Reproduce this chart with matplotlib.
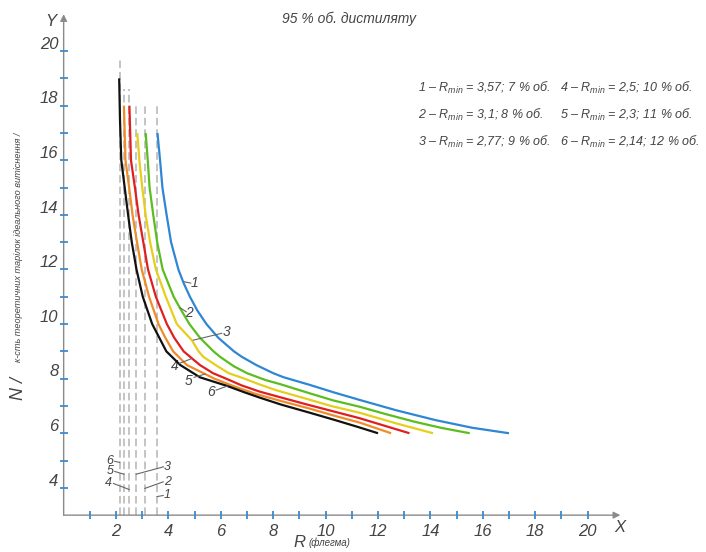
import matplotlib
matplotlib.use("Agg")
import matplotlib.pyplot as plt

# ─── data ─────────────────────────────────────────────────────────────────────
R_MIN = [3.57, 3.1, 2.77, 2.5, 2.3, 2.14]
LEGEND = [
    "1 – $R_{min}$ = 3,57; 7 % об.",
    "2 – $R_{min}$ = 3,1; 8 % об.",
    "3 – $R_{min}$ = 2,77; 9 % об.",
    "4 – $R_{min}$ = 2,5; 10 % об.",
    "5 – $R_{min}$ = 2,3; 11 % об.",
    "6 – $R_{min}$ = 2,14; 12 % об.",
]

# curve 1 (R_min = 3,57)
x1 = [3.58, 3.68, 3.77, 3.93, 4.1, 4.38, 4.58, 4.82, 5.1, 5.45, 5.9, 6.5, 6.8, 7.35, 8.0,
      8.4, 9.4, 10.3, 11.3, 12.7, 14.2, 15.6, 17.0]
y1 = [17.0, 16.0, 15.0, 14.0, 13.0, 12.0, 11.5, 11.0, 10.5, 10.0, 9.5, 9.0, 8.8, 8.5, 8.2,
      8.05, 7.77, 7.5, 7.22, 6.84, 6.48, 6.2, 6.0]

# curve 2 (R_min = 3,1)
x2 = [3.13, 3.21, 3.28, 3.42, 3.57, 3.78, 4.2, 4.45, 4.8, 5.2, 5.72, 5.97, 6.5, 7.0, 7.7,
      8.26, 9.4, 10.3, 11.3, 12.3, 13.4, 14.4, 15.5]
y2 = [17.0, 16.0, 15.0, 14.0, 13.0, 12.0, 11.0, 10.57, 10.0, 9.5, 9.0, 8.8, 8.45, 8.2, 7.95,
      7.8, 7.46, 7.2, 6.97, 6.7, 6.42, 6.2, 6.0]

# curve 3 (R_min = 2,77)
x3 = [2.81, 2.89, 3.0, 3.13, 3.3, 3.52, 3.9, 4.32, 4.89, 5.15, 5.33, 5.8, 6.3, 6.9, 7.5,
      8.1, 9.2, 10.2, 11.3, 12.7, 14.1]
y3 = [17.0, 16.0, 15.0, 14.0, 13.0, 12.0, 11.0, 10.0, 9.41, 9.0, 8.8, 8.5, 8.2, 8.0, 7.78,
      7.58, 7.28, 7.0, 6.75, 6.36, 6.0]

# curve 4 (R_min = 2,5)
x4 = [2.51, 2.57, 2.72, 2.86, 3.04, 3.22, 3.52, 3.94, 4.22, 4.58, 4.9, 5.2, 5.7, 6.2, 6.8,
      7.5, 8.26, 9.3, 10.3, 11.3, 12.3, 13.2]
y4 = [18.0, 16.0, 15.0, 14.0, 13.0, 12.0, 11.0, 10.0, 9.5, 9.0, 8.74, 8.5, 8.2, 8.0, 7.75,
      7.52, 7.32, 7.05, 6.8, 6.55, 6.26, 6.0]

# curve 5 (R_min = 2,3)
x5 = [2.3, 2.36, 2.5, 2.63, 2.8, 2.98, 3.26, 3.62, 3.88, 4.18, 4.7, 5.4, 5.75, 6.5, 7.3,
      8.26, 9.4, 10.3, 11.3, 12.5]
y5 = [18.0, 16.0, 15.0, 14.0, 13.0, 12.0, 11.0, 10.0, 9.5, 9.0, 8.5, 8.17, 8.0, 7.72, 7.45,
      7.19, 6.9, 6.65, 6.39, 6.0]

# curve 6 (R_min = 2,14)
x6 = [2.12, 2.15, 2.2, 2.33, 2.46, 2.6, 2.78, 3.02, 3.38, 3.65, 3.92, 4.45, 5.2, 6.25, 6.9,
      7.5, 8.3, 9.4, 10.3, 11.2, 12.0]
y6 = [19.0, 17.5, 16.0, 15.0, 14.0, 13.0, 12.0, 11.0, 10.0, 9.5, 9.0, 8.5, 8.05, 7.73, 7.5,
      7.3, 7.05, 6.75, 6.5, 6.24, 6.0]

X_TICKS = list(range(1, 21))
X_LABELS = [2, 4, 6, 8, 10, 12, 14, 16, 18, 20]
Y_TICKS = list(range(4, 21))
Y_LABELS = [4, 6, 8, 10, 12, 14, 16, 18, 20]

# ─── style ────────────────────────────────────────────────────────────────────
COLORS = ["#2f86d2", "#5cbd1f", "#e6cf1c", "#e01f1f", "#f08c28", "#111111"]
DASH_TOP = [18.1, 18.1, 18.1, 18.6, 18.6, 19.7]
TXT = "#444444"
TICK = "#3a8ad0"

plt.rcParams["font.family"] = ["Liberation Sans", "DejaVu Sans"]
plt.rcParams["mathtext.fontset"] = "custom"
plt.rcParams["mathtext.it"] = "Liberation Sans:italic"
plt.rcParams["mathtext.rm"] = "Liberation Sans"

fig = plt.figure(figsize=(7.06, 5.52), dpi=100)
ax = fig.add_axes([0, 0, 1, 1])
ax.set_xlim(-2.43, 24.52)
ax.set_ylim(1.65, 21.87)
ax.axis("off")

# dashed asymptotes at R_min
for r, top in zip(R_MIN, DASH_TOP):
    ax.plot([r, r], [3, top], color="#b4b4b4", lw=1.1, ls=(0, (5, 2.5)), zorder=2)

# curves
for xs, ys, c in zip([x1, x2, x3, x4, x5, x6], [y1, y2, y3, y4, y5, y6], COLORS):
    ax.plot(xs, ys, color=c, lw=1.6, zorder=4, solid_capstyle="butt", solid_joinstyle="round")

# axes with arrows
arrow = dict(arrowstyle="-|>", color="#8a8a8a", lw=1.0, mutation_scale=10, shrinkA=0, shrinkB=0)
ax.annotate("", xy=(21.25, 3), xytext=(0, 3), arrowprops=arrow)
ax.annotate("", xy=(0, 21.35), xytext=(0, 3), arrowprops=arrow)
ax.plot(X_TICKS, [3] * len(X_TICKS), ls="none", marker="|", ms=6, mew=1.3, color=TICK, zorder=5)
ax.plot([0] * len(Y_TICKS), Y_TICKS, ls="none", marker="_", ms=6, mew=1.3, color=TICK, zorder=5)

for v in X_LABELS:
    ax.text(v, 2.4, str(v), ha="center", va="center", fontsize=12, style="italic", color=TXT)
for v in Y_LABELS:
    ax.text(-0.2, v + 0.25, str(v), ha="right", va="center", fontsize=12, style="italic", color=TXT)

ax.text(-0.5, 21.1, "Y", ha="center", va="center", fontsize=12, style="italic", color=TXT)
ax.text(21.25, 2.55, "X", ha="center", va="center", fontsize=12, style="italic", color=TXT)

# axis titles
ax.text(9.25, 2.0, "R", ha="right", va="center", fontsize=12, style="italic", color=TXT)
ax.text(9.35, 1.98, "(флегма)", ha="left", va="center", fontsize=7, style="italic", color=TXT)
ax.text(-1.74, 7.2, "N /", ha="center", va="bottom", rotation=90, fontsize=13,
        style="italic", color=TXT)
ax.text(-1.74, 8.6, "к-сть теоретичних тарілок ідеального витіснення /", ha="center",
        va="bottom", rotation=90, fontsize=6.6, style="italic", color=TXT)
ax.text(10.9, 21.2, "95 % об. дистиляту", ha="center", va="center", fontsize=10,
        style="italic", color=TXT)

# legend text (two columns of three rows)
rows = [18.64, 17.66, 16.67]
for i, s in enumerate(LEGEND):
    col = 13.53 if i < 3 else 18.94
    ax.text(col, rows[i % 3], s, ha="left", va="center", fontsize=9, style="italic", color=TXT)

# curve number leaders
curve_leaders = [
    ("1", (4.6, 11.55), (4.85, 11.5), (4.98, 11.49)),
    ("2", (4.44, 10.6), (4.68, 10.45), (4.8, 10.41)),
    ("3", (4.95, 9.41), (6.03, 9.66), (6.2, 9.72)),
    ("4", (4.9, 8.74), (4.42, 8.56), (4.25, 8.46)),
    ("5", (5.4, 8.17), (4.98, 8.05), (4.76, 7.92)),
    ("6", (6.25, 7.73), (5.82, 7.58), (5.61, 7.52)),
]
for lab, p0, p1, pt in curve_leaders:
    ax.plot([p0[0], p1[0]], [p0[1], p1[1]], color="#666666", lw=0.8, zorder=5)
    ax.text(pt[0], pt[1], lab, ha="center", va="center", fontsize=10, style="italic", color=TXT)

# dashed-line number leaders near the bottom
dash_leaders = [
    ("6", (2.14, 4.93), (1.95, 4.97), (1.77, 4.99)),
    ("5", (2.3, 4.5), (1.95, 4.6), (1.77, 4.6)),
    ("4", (2.5, 3.94), (1.9, 4.16), (1.72, 4.16)),
    ("3", (2.77, 4.5), (3.81, 4.77), (3.95, 4.77)),
    ("2", (3.1, 3.98), (3.8, 4.22), (3.95, 4.22)),
    ("1", (3.57, 3.68), (3.8, 3.72), (3.95, 3.72)),
]
for lab, p0, p1, pt in dash_leaders:
    ax.plot([p0[0], p1[0]], [p0[1], p1[1]], color="#666666", lw=0.8, zorder=5)
    ax.text(pt[0], pt[1], lab, ha="center", va="center", fontsize=9, style="italic", color=TXT)

fig.savefig("out.png", dpi=100)
